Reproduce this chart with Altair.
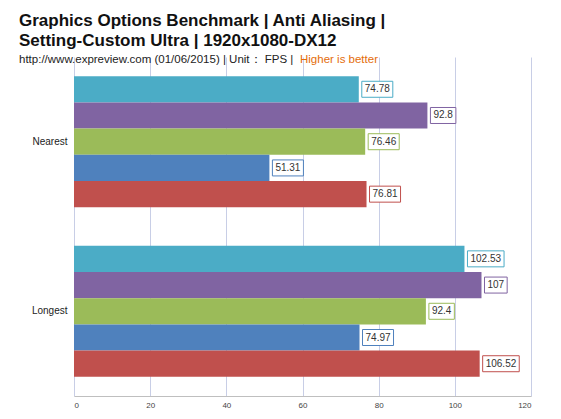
import altair as alt
import pandas as pd

# ---- data ----
groups = ["Nearest", "Longest"]
series = ["Series 5", "Series 4", "Series 3", "Series 2", "Series 1"]  # top to bottom
colors = ["#4BACC6", "#8064A2", "#9BBB59", "#4F81BD", "#C0504D"]
nearest = [74.78, 92.8, 76.46, 51.31, 76.81]
longest = [102.53, 107, 92.4, 74.97, 106.52]
labels_nearest = ["74.78", "92.8", "76.46", "51.31", "76.81"]
labels_longest = ["102.53", "107", "92.4", "74.97", "106.52"]
x_ticks = [0, 20, 40, 60, 80, 100, 120]

title_line1 = "Graphics Options Benchmark | Anti Aliasing |"
title_line2 = "Setting-Custom Ultra | 1920x1080-DX12"
sub_black = "http://www.expreview.com (01/06/2015) | Unit\uff1a FPS |"
sub_orange = "Higher is better"

rows = []
for g, vals, labs in [("Nearest", nearest, labels_nearest), ("Longest", longest, labels_longest)]:
    for s, v, l in zip(series, vals, labs):
        rows.append({"group": g, "series": s, "value": v, "label": l})
df = pd.DataFrame(rows)

W, H = 457, 339
FONT = "Liberation Sans"

y_enc = alt.Y("group:N", sort=groups, title=None,
              scale=alt.Scale(paddingInner=0.227, paddingOuter=0.113),
              axis=alt.Axis(ticks=False, domain=False, labelPadding=7, labelFontSize=10,
                            labelColor="#222222", labelFont=FONT))
yoff = alt.YOffset("series:N", sort=series, scale=alt.Scale(paddingInner=0, paddingOuter=0))
x_scale = alt.Scale(domain=[0, 120], nice=False)
color = alt.Color("series:N", sort=series, scale=alt.Scale(domain=series, range=colors), legend=None)

base = alt.Chart(df)

bars = base.mark_bar().encode(
    x=alt.X("value:Q", scale=x_scale, title=None,
            axis=alt.Axis(values=x_ticks, grid=True, gridColor="#c8cee6", gridWidth=1,
                          domainColor="#bfbfbf", ticks=False, labelFontSize=8,
                          labelColor="#444444", labelPadding=5, labelFont=FONT)),
    y=y_enc, yOffset=yoff, color=color,
)

px_unit = "(120/%d)" % W
boxes = base.transform_calculate(
    ndot="indexof(datum.label, '.') >= 0 ? 1 : 0"
).transform_calculate(
    xend="datum.value + ((length(datum.label) - datum.ndot) * 5.56 + datum.ndot * 2.78 + 6) * " + px_unit
).mark_bar(height=16, fill="white", strokeWidth=1, xOffset=3, x2Offset=3).encode(
    x=alt.X("value:Q", scale=x_scale),
    x2="xend:Q",
    y=y_enc, yOffset=yoff,
    stroke=alt.Stroke("series:N", sort=series, scale=alt.Scale(domain=series, range=colors), legend=None),
)

texts = base.mark_text(align="left", baseline="middle", dx=6, fontSize=10, font=FONT,
                       color="#333333").encode(
    x=alt.X("value:Q", scale=x_scale),
    y=y_enc, yOffset=yoff, text="label:N",
)

one = pd.DataFrame({"k": [0]})
def header(txt, x, y, size, bold=False, col="#111111"):
    return alt.Chart(one).mark_text(text=txt, align="left", baseline="alphabetic",
                                    fontSize=size, fontWeight="bold" if bold else "normal",
                                    font=FONT, color=col).encode(
        x=alt.value(x), y=alt.value(y))

h1 = header(title_line1, -55, -31, 17, True)
h2 = header(title_line2, -55, -11, 17, True)
h3 = header(sub_black, -55, 6, 11.5, False, "#222222")
h4 = header(sub_orange, 226, 6, 11.5, False, "#E46C0A")

chart = alt.layer(bars, boxes, texts, h1, h2, h3, h4).resolve_scale(stroke="independent").properties(
    width=W, height=H,
    autosize=alt.AutoSizeParams(type="none"),
    padding={"left": 66, "top": 49, "right": 22, "bottom": 15},
).configure_view(stroke=None)

chart.save("out.html", embed_options={"renderer": "svg", "actions": False})
